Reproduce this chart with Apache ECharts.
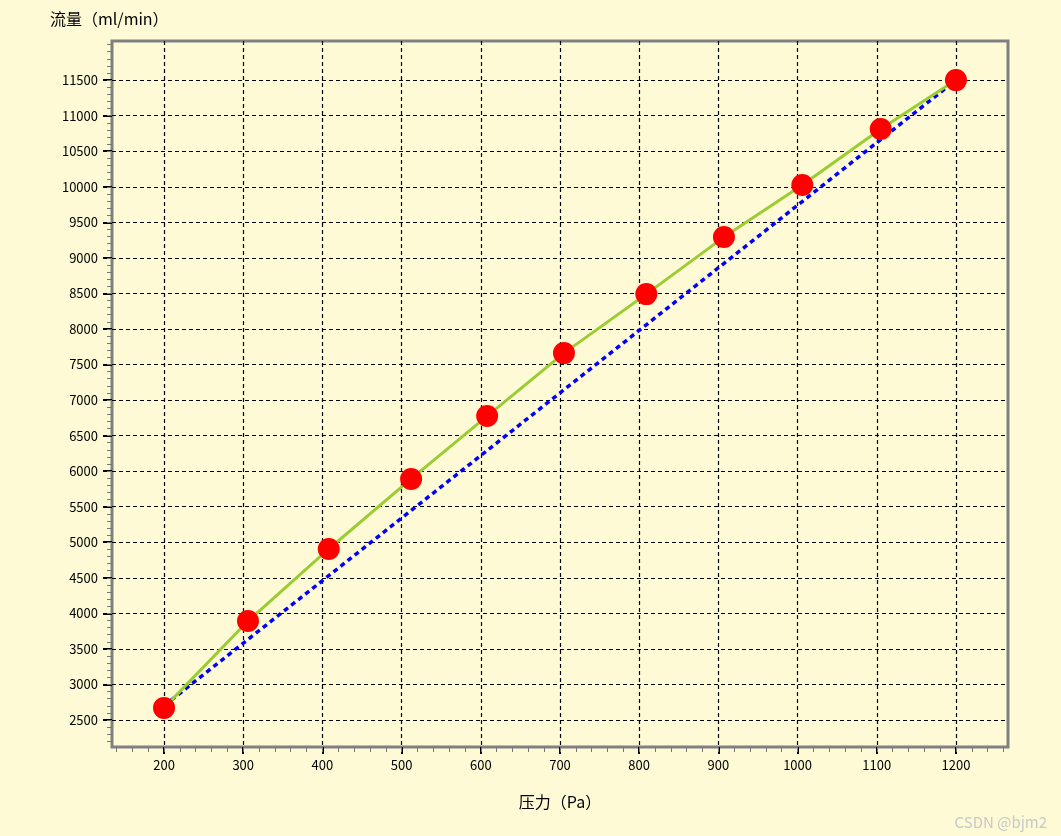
<!DOCTYPE html>
<html><head><meta charset="utf-8">
<script src="https://cdn.jsdelivr.net/npm/echarts@6/dist/echarts.min.js"></script>
<style>html,body{margin:0;background:#fffad6}#c{width:1061px;height:836px}</style>
</head><body><div id="c"></div>
<script>
// 测量数据
var pressure = [200, 306, 408, 512, 608, 705, 809, 907, 1006, 1105, 1200];
var flow = [2670, 3892, 4905, 5890, 6775, 7660, 8490, 9292, 10024, 10811, 11500];
var fitLine = [[200, 2700], [1200, 11500]];
var xTicks = [200, 300, 400, 500, 600, 700, 800, 900, 1000, 1100, 1200];
var yTicks = [2500, 3000, 3500, 4000, 4500, 5000, 5500, 6000, 6500, 7000, 7500, 8000, 8500, 9000, 9500, 10000, 10500, 11000, 11500];

var xMinor = [], yMinor = [];
for (var v = 140; v <= 1260; v += 20) xMinor.push(v);
for (var w = 2200; w <= 12000; w += 100) yMinor.push(w);

var font = '"Noto Sans CJK SC", sans-serif';
var plain = function (val) { return String(val); };
var chart = echarts.init(document.getElementById('c'));
var base = function (min, max) {
  return { type: 'value', min: min, max: max, axisLine: { show: false } };
};
var xMain = base(134.3, 1265.7);
xMain.position = 'bottom';
xMain.axisTick = { customValues: xTicks, length: 7, lineStyle: { color: '#000', width: 2 } };
xMain.axisLabel = { customValues: xTicks, formatter: plain, color: '#000', fontFamily: font, fontSize: 13, margin: 12 };
xMain.splitLine = { show: true, lineStyle: { color: '#000', type: [4, 3], width: 1.2 } };
xMain.name = '压力（Pa）'; xMain.nameLocation = 'middle'; xMain.nameGap = 47;
xMain.nameTextStyle = { color: '#000', fontFamily: font, fontSize: 16 };
var xMin = base(134.3, 1265.7);
xMin.position = 'bottom'; xMin.offset = 0;
xMin.axisTick = { customValues: xMinor, length: 5, lineStyle: { color: '#777' } };
xMin.axisLabel = { show: false }; xMin.splitLine = { show: false };

var yMain = base(2120, 12050);
yMain.position = 'left';
yMain.axisTick = { customValues: yTicks, length: 9, lineStyle: { color: '#000', width: 2 } };
yMain.axisLabel = { customValues: yTicks, formatter: plain, color: '#000', fontFamily: font, fontSize: 13, margin: 14 };
yMain.splitLine = { show: true, lineStyle: { color: '#000', type: [4, 3], width: 1.2 } };
var yMin = base(2120, 12050);
yMin.position = 'left'; yMin.offset = 0;
yMin.axisTick = { customValues: yMinor, length: 5, lineStyle: { color: '#777' } };
yMin.axisLabel = { show: false }; yMin.splitLine = { show: false };

chart.setOption({
  backgroundColor: '#fffad6',
  animation: false,
  graphic: [
    { type: 'text', left: 50, top: 11, style: { text: '流量（ml/min）', fill: '#000', font: '16px ' + font } },
    { type: 'text', right: 14, bottom: 6, style: { text: 'CSDN @bjm2', fill: '#c8c8c8', font: '15px ' + font } }
  ],
  grid: { left: 112, right: 53, top: 41, bottom: 89, show: true, borderColor: '#808080', borderWidth: 3, backgroundColor: 'transparent' },
  xAxis: [xMain, xMin],
  yAxis: [yMain, yMin],
  series: [
    { type: 'line', data: fitLine, symbol: 'none', lineStyle: { color: '#0000ff', width: 3.5, type: [5, 4] }, z: 3 },
    { type: 'line', data: pressure.map(function (p, i) { return [p, flow[i]]; }), symbol: 'circle', symbolSize: 22,
      itemStyle: { color: '#ff0000' }, lineStyle: { color: '#9acd32', width: 3 }, z: 4 }
  ]
});
</script></body></html>
